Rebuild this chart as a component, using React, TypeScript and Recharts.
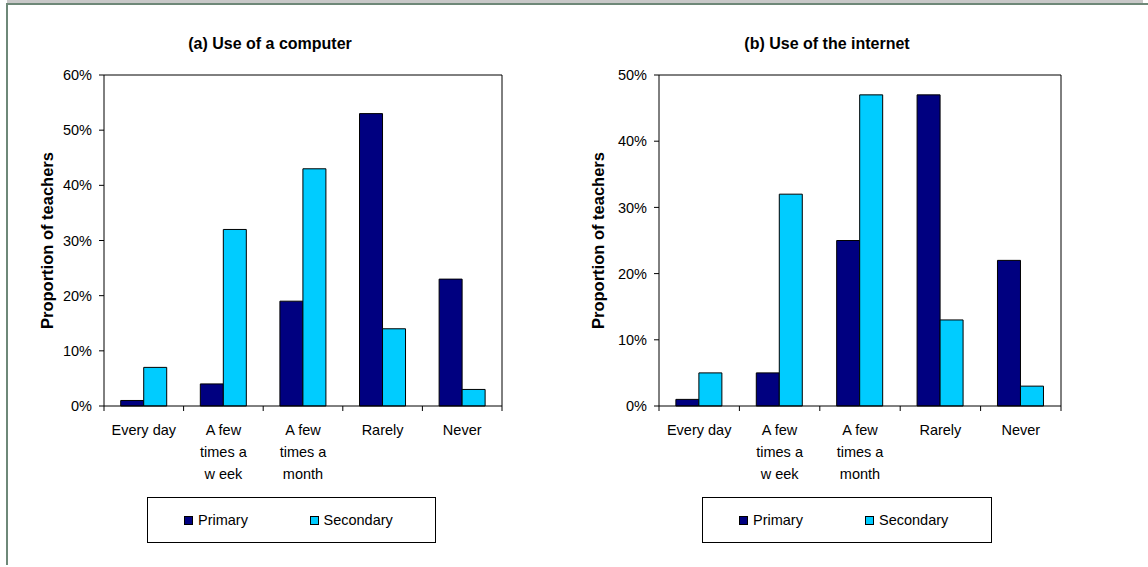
import React from 'react'
import { BarChart, Bar, XAxis, YAxis, Legend } from 'recharts'

const categories = ['Every day', 'A few times a week', 'A few times a month', 'Rarely', 'Never']
const categoryLines = [['Every day'], ['A few', 'times a', 'w eek'], ['A few', 'times a', 'month'], ['Rarely'], ['Never']]

const computerPrimary = [1, 4, 19, 53, 23]
const computerSecondary = [7, 32, 43, 14, 3]
const internetPrimary = [1, 5, 25, 47, 22]
const internetSecondary = [5, 32, 47, 13, 3]

const computerTicks = [0, 10, 20, 30, 40, 50, 60]
const internetTicks = [0, 10, 20, 30, 40, 50]

const FONT = '"Liberation Sans", Arial, sans-serif'
const PRIMARY = '#000080'
const SECONDARY = '#00CCFF'
const HEIGHT = 567
const PLOT_TOP = 75
const PLOT_BOTTOM = 406
const X_AXIS_H = 90
const Y_AXIS_W = 50

interface PanelProps {
  title: string
  primary: number[]
  secondary: number[]
  ticks: number[]
  left: number
  width: number
  plotLeft: number
  plotRight: number
  labelX: number
  legendLeft: number
  legendWidth: number
}

function Panel({ title, primary, secondary, ticks, left, width, plotLeft, plotRight, labelX, legendLeft, legendWidth }: PanelProps) {
  const data = categories.map((c, i) => ({ name: c, primary: primary[i], secondary: secondary[i] }))
  const half = (plotRight - plotLeft) / categories.length / 2
  const titleCenter = (plotLeft + plotRight) / 2 - 33
  const domain = [ticks[0], ticks[ticks.length - 1]]

  // excel style: ticks sit between categories, labels wrap onto several lines
  const CategoryTick = ({ x, y, index }: any) => {
    const lines = categoryLines[index] ?? [categories[index]]
    return (
      <g>
        <line x1={x - half} y1={y - 5} x2={x - half} y2={y} stroke="#000" />
        {index === categories.length - 1 && <line x1={x + half} y1={y - 5} x2={x + half} y2={y} stroke="#000" />}
        <text x={x} y={y + 24} textAnchor="middle" fill="#000" fontSize={14.5} fontFamily={FONT}>
          {lines.map((l: string, k: number) => (
            <tspan key={k} x={x} dy={k === 0 ? 0 : 22}>{l}</tspan>
          ))}
        </text>
      </g>
    )
  }

  const AxisLabel = ({ viewBox }: any) => {
    const cy = viewBox.y + viewBox.height / 2
    return (
      <text
        x={labelX}
        y={cy}
        transform={`rotate(-90 ${labelX} ${cy})`}
        textAnchor="middle"
        dominantBaseline="central"
        fontSize={16.5}
        fontWeight="bold"
        fontFamily={FONT}
        fill="#000"
      >
        Proportion of teachers
      </text>
    )
  }

  const LegendBox = ({ payload }: any) => (
    <div style={{ display: 'flex', alignItems: 'center', height: 44, paddingLeft: 36, fontFamily: FONT, fontSize: 14.5, color: '#000' }}>
      {(payload ?? []).map((item: any) => (
        <div key={item.value} style={{ width: 134, display: 'flex', alignItems: 'center' }}>
          <span style={{ display: 'inline-block', width: 9, height: 9, boxSizing: 'border-box', background: item.color, border: '1px solid #000', marginRight: 5 }} />
          <span>{item.value}</span>
        </div>
      ))}
    </div>
  )

  return (
    <div style={{ position: 'absolute', left, top: 0, width, height: HEIGHT }}>
      <div
        style={{
          position: 'absolute', left: titleCenter - 150, top: 34, width: 300, textAlign: 'center',
          fontFamily: FONT, fontSize: 16, fontWeight: 'bold', lineHeight: '19px', color: '#000',
        }}
      >
        {title}
      </div>
      <BarChart
        width={width}
        height={HEIGHT}
        data={data}
        barGap={0}
        barCategoryGap="21%"
        margin={{ top: PLOT_TOP - 1, right: width - plotRight - 1, left: plotLeft - Y_AXIS_W, bottom: HEIGHT - PLOT_BOTTOM - X_AXIS_H }}
      >
        <XAxis
          dataKey="name"
          height={X_AXIS_H}
          interval={0}
          tickLine={false}
          tickSize={5}
          tickMargin={0}
          axisLine={{ stroke: '#000' }}
          tick={<CategoryTick />}
        />
        {/* plot frame: top and right edges */}
        <XAxis xAxisId="frame" orientation="top" dataKey="name" height={1} tick={false} tickLine={false} axisLine={{ stroke: '#000' }} />
        <YAxis
          width={Y_AXIS_W}
          domain={domain}
          ticks={ticks}
          tickFormatter={(v: number) => `${v}%`}
          tickSize={5}
          tickMargin={7}
          axisLine={{ stroke: '#000' }}
          tickLine={{ stroke: '#000' }}
          tick={{ fill: '#000', fontSize: 14.5, fontFamily: FONT }}
          label={<AxisLabel />}
        />
        <YAxis yAxisId="frame" orientation="right" domain={domain} width={1} tick={false} tickLine={false} axisLine={{ stroke: '#000' }} />
        <Legend
          layout="vertical"
          align="center"
          verticalAlign="middle"
          content={<LegendBox />}
          wrapperStyle={{
            left: legendLeft, top: 497, width: legendWidth, height: 46,
            border: '1px solid #000', boxSizing: 'border-box', background: '#fff',
          }}
        />
        <Bar dataKey="primary" name="Primary" fill={PRIMARY} stroke="#000" strokeWidth={1} isAnimationActive={false} />
        <Bar dataKey="secondary" name="Secondary" fill={SECONDARY} stroke="#000" strokeWidth={1} isAnimationActive={false} />
      </BarChart>
    </div>
  )
}

export default function App() {
  return (
    <div style={{ position: 'absolute', left: 0, top: 0, width: 1148, height: HEIGHT, background: '#fff', overflow: 'hidden' }}>
      <div style={{ position: 'absolute', left: 7, top: 0, width: 1136, height: 3, background: '#c8c8c8' }} />
      <div style={{ position: 'absolute', left: 6, top: 3, width: 1142, height: 2, background: '#6e8878' }} />
      <div style={{ position: 'absolute', left: 6, top: 3, width: 2, height: 562, background: '#6e8878' }} />
      <Panel
        title="(a) Use of a computer"
        primary={computerPrimary}
        secondary={computerSecondary}
        ticks={computerTicks}
        left={0}
        width={574}
        plotLeft={104}
        plotRight={502}
        labelX={47}
        legendLeft={147}
        legendWidth={289}
      />
      <Panel
        title="(b) Use of the internet"
        primary={internetPrimary}
        secondary={internetSecondary}
        ticks={internetTicks}
        left={574}
        width={574}
        plotLeft={85}
        plotRight={487}
        labelX={24}
        legendLeft={128}
        legendWidth={290}
      />
    </div>
  )
}
